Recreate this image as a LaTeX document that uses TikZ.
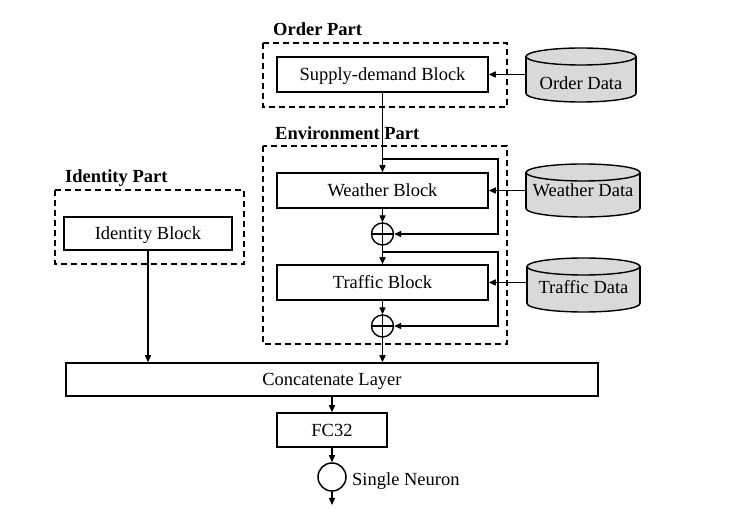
\documentclass[tikz,border=0pt]{standalone}
\usepackage{fontspec}
\setmainfont{Liberation Serif}
\usetikzlibrary{arrows.meta}
\definecolor{cylgray}{RGB}{217,217,217}
\newcommand\mycyl[4]{%
  \pgfmathsetmacro\cylcx{(#1+#2)/2}%
  \pgfmathsetmacro\cylrx{(#2-#1)/2}%
  \filldraw[cylfill] (\cylcx,#4-8.5) ellipse [x radius=\cylrx pt, y radius=8.5pt];
  \fill[cylgray] (#1,#3+8.5) rectangle (#2,#4-8.5);
  \draw[line width=1.4pt] (#1,#3+8.5) -- (#1,#4-8.5) (#2,#3+8.5) -- (#2,#4-8.5);
  \filldraw[cylfill] (\cylcx,#3+8.5) ellipse [x radius=\cylrx pt, y radius=8.5pt];
}
\begin{document}
\begin{tikzpicture}[x=1pt,y=-1pt,
  font=\fontsize{18.5}{22}\selectfont,
  blk/.style={draw, line width=1.5pt, inner sep=0pt, text height=12.5pt, text depth=0pt},
  part/.style={draw, dash pattern=on 6pt off 4pt, line width=1.4pt},
  lbl/.style={font=\fontsize{18.5}{22}\selectfont\bfseries, anchor=base west, inner sep=0pt},
  conn/.style={line width=1.4pt, -{Triangle[length=7pt,width=6pt]}},
  plus/.style={circle, draw, line width=1.4pt, minimum size=22pt, inner sep=0pt},
  neuron/.style={circle, draw, line width=1.5pt, minimum size=28pt, inner sep=0pt},
  cyltxt/.style={inner sep=0pt, text height=12.5pt, text depth=0pt},
  cylfill/.style={fill=cylgray, draw, line width=1.4pt}]
\useasboundingbox (0,0) rectangle (732,526);

% dashed part boxes
\draw[part] (263,43) rectangle (507,107);
\draw[part] (263,146) rectangle (507,344);
\draw[part] (55,190) rectangle (244,264);

% part labels
\node[lbl] (lorder) at (273,36) {Order Part};
\node[lbl] (lenv) at (275,140) {Environment Part};
\node[lbl] (lid) at (65,183) {Identity Part};

% cylinders
\mycyl{526}{636}{48}{102}
\mycyl{526}{640}{164}{217}
\mycyl{527}{640}{258}{312}
\node[cyltxt] (od) at (581,83) {Order Data};
\node[cyltxt] (wd) at (583,190) {Weather Data};
\node[cyltxt] (td) at (583.5,287) {Traffic Data};
\coordinate (odL) at (526,74.5);
\coordinate (wdL) at (526,190.5);
\coordinate (tdL) at (527,282.5);

% blocks
\node[blk, minimum width=211pt, minimum height=35pt] (sd) at (382.5,74.5) {Supply-demand Block};
\node[blk, minimum width=211pt, minimum height=35pt] (wb) at (382.5,190.5) {Weather Block};
\node[plus] (p1) at (382.5,234) {};
\node[blk, minimum width=211pt, minimum height=35pt] (tb) at (382.5,282.5) {Traffic Block};
\node[plus] (p2) at (382.5,326) {};
\node[blk, minimum width=168pt, minimum height=33pt] (ib) at (148,233.5) {Identity Block};
\node[blk, minimum width=532pt, minimum height=33pt] (cc) at (332,379.5) {Concatenate Layer};
\node[blk, minimum width=110pt, minimum height=34pt] (fc) at (332,430) {FC32};
\node[neuron] (nn) at (332,477) {};
\node[cyltxt, anchor=west] (snl) at (352,479.5) {Single Neuron};
\coordinate (out) at (332,505);

% plus signs
\draw[line width=1.4pt] (p1.north) -- (p1.south) (p1.west) -- (p1.east);
\draw[line width=1.4pt] (p2.north) -- (p2.south) (p2.west) -- (p2.east);

% data inputs
\draw[conn] (odL) -- (sd.east);
\draw[conn] (wdL) -- (wb.east);
\draw[conn] (tdL) -- (tb.east);

% main chain
\draw[conn] (sd.south) -- (wb.north);
\draw[conn] (wb.south) -- (p1.north);
\draw[conn] (p1.south) -- (tb.north);
\draw[conn] (tb.south) -- (p2.north);
\draw[conn] (p2.south) -- (p2.south |- cc.north);

% skip connections
\coordinate (s1) at (382.5,159);
\coordinate (s2) at (382.5,252);
\coordinate (rx) at (498,0);
\draw[conn] (s1) -- (s1 -| rx) -- (rx |- p1.east) -- (p1.east);
\draw[conn] (s2) -- (s2 -| rx) -- (rx |- p2.east) -- (p2.east);

% identity and output
\draw[conn] (ib.south) -- (ib.south |- cc.north);
\draw[conn] (cc.south) -- (fc.north);
\draw[conn] (fc.south) -- (nn.north);
\draw[conn] (nn.south) -- (out);
\end{tikzpicture}
\end{document}
